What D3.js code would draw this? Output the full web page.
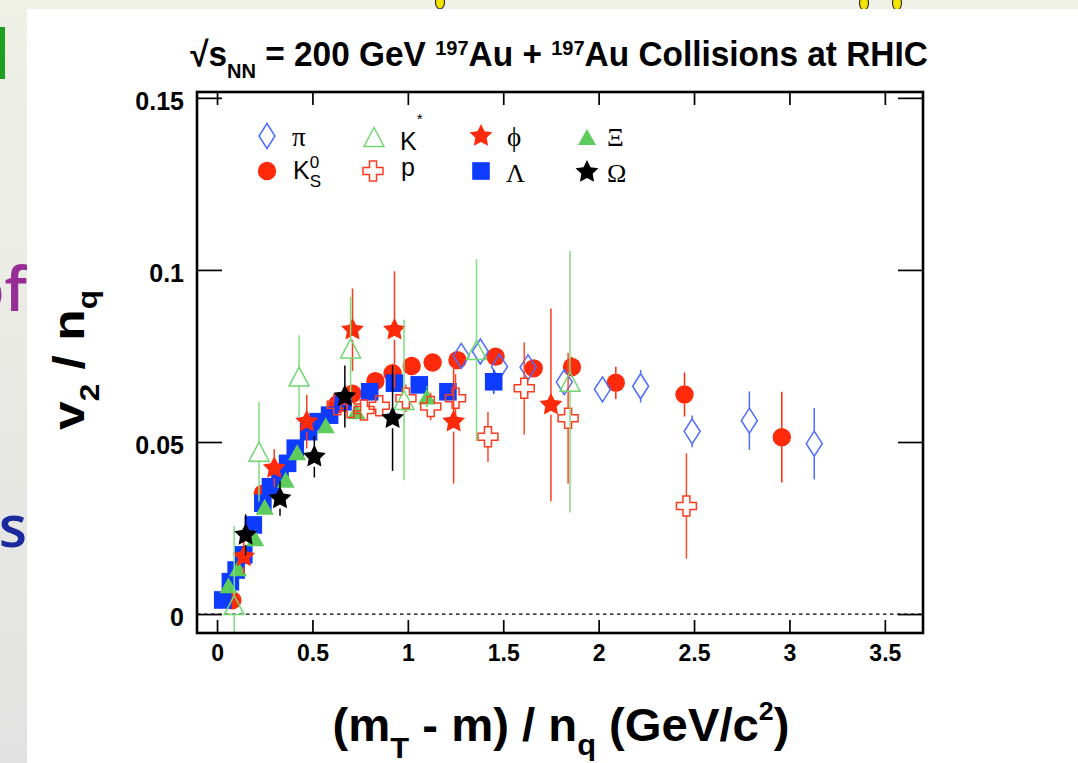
<!DOCTYPE html>
<html>
<head>
<meta charset="utf-8">
<script src="https://cdn.jsdelivr.net/npm/d3@7"></script>
<style>
  html, body { margin: 0; padding: 0; }
  body { width: 1078px; height: 763px; overflow: hidden; }
  svg { display: block; font-family: "Liberation Sans", Arial, sans-serif; }
</style>
</head>
<body>
<svg id="chart" width="1078" height="763"></svg>
<script>
// ---- data: (mT - m)/nq , v2/nq , error ----
const piX = [1.28, 1.38, 1.48, 1.63, 1.82, 2.02, 2.22, 2.49, 2.79, 3.13];
const piY = [0.0750, 0.0763, 0.0719, 0.0717, 0.0674, 0.0653, 0.0662, 0.0531, 0.0562, 0.0495];
const piE = [0.0025, 0.0025, 0.0025, 0.0025, 0.0030, 0.0035, 0.0047, 0.0046, 0.0085, 0.0104];

const k0sX = [0.08, 0.24, 0.63, 0.71, 0.83, 0.92, 1.02, 1.13, 1.26, 1.46, 1.66, 1.86, 2.09, 2.45, 2.96];
const k0sY = [0.0040, 0.0350, 0.0610, 0.0640, 0.0677, 0.0700, 0.0721, 0.0731, 0.0738, 0.0748, 0.0714, 0.0718, 0.0672, 0.0638, 0.0514];
const k0sE = [0.0015, 0.0015, 0.0015, 0.0015, 0.0015, 0.0015, 0.0015, 0.0015, 0.0018, 0.0020, 0.0025, 0.0030, 0.0047, 0.0064, 0.0132];

const kstX = [0.09, 0.22, 0.43, 0.70, 0.98, 1.36, 1.85];
const kstY = [0.0026, 0.0472, 0.0690, 0.0772, 0.0622, 0.0767, 0.0675];
const kstE = [0.0230, 0.0145, 0.0120, 0.0150, 0.0233, 0.0264, 0.0380];

const pX = [0.63, 0.70, 0.77, 0.85, 0.99, 1.12, 1.25, 1.42, 1.61, 1.84, 2.46];
const pY = [0.0608, 0.0600, 0.0593, 0.0605, 0.0627, 0.0603, 0.0627, 0.0515, 0.0656, 0.0569, 0.0314];
const pE = [0.0020, 0.0020, 0.0020, 0.0030, 0.0040, 0.0040, 0.0070, 0.0073, 0.0134, 0.0190, 0.0153];

const phiX = [0.14, 0.30, 0.47, 0.71, 0.93, 1.24, 1.75];
const phiY = [0.0167, 0.0424, 0.0559, 0.0826, 0.0826, 0.0559, 0.0608];
const phiE = [0.0050, 0.0055, 0.0078, 0.0120, 0.0170, 0.0180, 0.0280];

const lamX = [0.03, 0.07, 0.10, 0.14, 0.19, 0.24, 0.28, 0.33, 0.37, 0.41, 0.48, 0.53, 0.59, 0.66, 0.80, 0.93, 1.06, 1.21, 1.45];
const lamY = [0.0041, 0.0094, 0.0128, 0.0172, 0.0259, 0.0322, 0.0370, 0.0409, 0.0438, 0.0482, 0.0530, 0.0559, 0.0578, 0.0617, 0.0646, 0.0671, 0.0666, 0.0646, 0.0675];
const lamE = [0.0010, 0.0010, 0.0010, 0.0010, 0.0010, 0.0010, 0.0010, 0.0010, 0.0010, 0.0010, 0.0010, 0.0010, 0.0012, 0.0012, 0.0015, 0.0018, 0.0020, 0.0025, 0.0035];

const xiX = [0.06, 0.11, 0.20, 0.25, 0.36, 0.42, 0.57, 0.73, 1.10];
const xiY = [0.0084, 0.0133, 0.0220, 0.0312, 0.0390, 0.0470, 0.0549, 0.0590, 0.0632];
const xiE = [0.0015, 0.0015, 0.0015, 0.0015, 0.0015, 0.0018, 0.0020, 0.0025, 0.0030];

const omX = [0.15, 0.33, 0.51, 0.67, 0.92];
const omY = [0.0230, 0.0336, 0.0457, 0.0632, 0.0569];
const omE = [0.0060, 0.0050, 0.0060, 0.0090, 0.0153];

const xTicks = [0, 0.5, 1, 1.5, 2, 2.5, 3, 3.5];
const yTicks = [0, 0.05, 0.1, 0.15];

// ---- marker shapes (centered on 0,0) ----
const shapes = {
  circle: r => `M${r},0A${r},${r} 0 1,1 ${-r},0A${r},${r} 0 1,1 ${r},0Z`,
  square: h => `M${-h},${-h}H${h}V${h}H${-h}Z`,
  triangle: (w, h) => `M0,${-h / 2}L${w / 2},${h / 2}L${-w / 2},${h / 2}Z`,
  diamond: (w, h) => `M0,${-h}L${w},0L0,${h}L${-w},0Z`,
  cross: (L, a) => `M${-a},${-L}H${a}V${-a}H${L}V${a}H${a}V${L}H${-a}V${a}H${-L}V${-a}H${-a}Z`,
  star: R => {
    const pts = d3.range(10).map(i => {
      const r = i % 2 ? R * 0.5 : R;
      const t = -Math.PI / 2 + i * Math.PI / 5;
      return [r * Math.cos(t), r * Math.sin(t)];
    });
    return "M" + pts.map(p => p.join(",")).join("L") + "Z";
  }
};

const red = "#ff2a0a", blue = "#0d3bff", green = "#5ccd5c";

const series = [
  { xs: k0sX, ys: k0sY, es: k0sE, d: shapes.circle(9.2), half: 9, fill: red, stroke: "none", err: red },
  { xs: piX, ys: piY, es: piE, d: shapes.diamond(8, 12.5), half: 12.5, fill: "none", stroke: "#4b6cff", err: "#4b6cff" },
  { xs: lamX, ys: lamY, es: lamE, d: shapes.square(8.8), half: 8.8, fill: blue, stroke: "none", err: blue },
  { xs: xiX, ys: xiY, es: xiE, d: shapes.triangle(18, 16), half: 8, fill: green, stroke: "none", err: green },
  { xs: pX, ys: pY, es: pE, d: shapes.cross(10, 3.5), half: 10, fill: "none", stroke: "#ff3b1f", err: "#ff4a2a" },
  { xs: phiX, ys: phiY, es: phiE, d: shapes.star(12), half: 10, fill: red, stroke: "none", err: "#ff3a1a" },
  { xs: kstX, ys: kstY, es: kstE, d: shapes.triangle(20, 19), half: 9.5, fill: "none", stroke: "#72d672", err: "#80dc80" },
  { xs: omX, ys: omY, es: omE, d: shapes.star(12), half: 10, fill: "#000", stroke: "none", err: "#000" }
];

const svg = d3.select("#chart");
const W = 1078, H = 763;

// ---- slide background around the figure ----
const defs = svg.append("defs");
const bg = defs.append("linearGradient").attr("id", "bg")
  .attr("x1", 0).attr("y1", 0).attr("x2", 0).attr("y2", 1);
bg.append("stop").attr("offset", "0%").attr("stop-color", "#eff1e7");
bg.append("stop").attr("offset", "100%").attr("stop-color", "#e2e2e2");
svg.append("rect").attr("width", W).attr("height", H).attr("fill", "url(#bg)");

svg.append("rect").attr("x", 0).attr("y", 27).attr("width", 5).attr("height", 52).attr("fill", "#1f9f1f");
svg.append("text").attr("x", 27).attr("y", 311).attr("text-anchor", "end")
  .attr("font-family", "Open Sans").attr("font-weight", 600).attr("font-size", 62).attr("fill", "#962e96").text("of");
svg.append("text").attr("x", 27).attr("y", 547).attr("text-anchor", "end")
  .attr("font-family", "Open Sans").attr("font-weight", 600).attr("font-size", 58).attr("fill", "#1a2a9c").text("s");
[[440, 2], [864, 3], [897, 3]].forEach(([cx, cy]) =>
  svg.append("ellipse").attr("cx", cx).attr("cy", cy).attr("rx", 4.5).attr("ry", 7)
    .attr("fill", "#f3e400").attr("stroke", "#333").attr("stroke-width", 1.2));

svg.append("rect").attr("x", 27).attr("y", 9).attr("width", W - 27).attr("height", H - 9).attr("fill", "#fff");

// ---- scales ----
const x = d3.scaleLinear().domain([-0.105, 3.70]).range([197, 923]);
const y = d3.scaleLinear().domain([-0.0055, 0.1517]).range([633, 92]);
const [x0, x1] = x.range();
const [y0, y1] = y.range();

defs.append("clipPath").attr("id", "plot")
  .append("rect").attr("x", x0).attr("y", y1).attr("width", x1 - x0).attr("height", y0 - y1);

// dashed zero line
svg.append("line").attr("x1", x0).attr("x2", x1).attr("y1", y(0)).attr("y2", y(0))
  .attr("stroke", "#000").attr("stroke-width", 1.3).attr("stroke-dasharray", "3.5,3.5");

// ---- data ----
const plot = svg.append("g").attr("clip-path", "url(#plot)");
series.forEach(s => {
  const pts = s.xs.map((v, i) => ({ x: v, y: s.ys[i], e: s.es[i] }));
  const g = plot.append("g");
  pts.forEach(p => {
    const cx = x(p.x), cy = y(p.y);
    const lo = y(p.y - p.e), hi = y(p.y + p.e);
    if (lo > cy + s.half) g.append("line").attr("x1", cx).attr("x2", cx).attr("y1", cy + s.half).attr("y2", lo)
      .attr("stroke", s.err).attr("stroke-width", 1.5);
    if (hi < cy - s.half) g.append("line").attr("x1", cx).attr("x2", cx).attr("y1", hi).attr("y2", cy - s.half)
      .attr("stroke", s.err).attr("stroke-width", 1.5);
  });
  g.selectAll("path").data(pts).join("path")
    .attr("d", s.d)
    .attr("transform", p => `translate(${x(p.x)},${y(p.y)})`)
    .attr("fill", s.fill).attr("stroke", s.stroke).attr("stroke-width", 1.5);
});

// ---- axes ----
const font = "'Liberation Sans', Arial, sans-serif";
function styleAxis(g, size) {
  g.select(".domain").remove();
  g.selectAll("line").attr("stroke", "#000").attr("stroke-width", 1.7);
  g.attr("font-family", font).attr("font-size", size).attr("font-weight", "bold");
  g.selectAll("text").attr("fill", "#000");
}
svg.append("g").attr("transform", `translate(0,${y0})`)
  .call(d3.axisBottom(x).tickValues(xTicks).tickSize(-13).tickSizeOuter(0).tickPadding(12).tickFormat(d => String(d)))
  .call(g => styleAxis(g, 23));
svg.append("g").attr("transform", `translate(0,${y1})`)
  .call(d3.axisTop(x).tickValues(xTicks).tickSize(-13).tickSizeOuter(0).tickFormat(""))
  .call(g => styleAxis(g, 23));
svg.append("g").attr("transform", `translate(${x0},0)`)
  .call(d3.axisLeft(y).tickValues(yTicks).tickSize(-25).tickSizeOuter(0).tickPadding(13).tickFormat(d => String(d)))
  .call(g => styleAxis(g, 25))
  .call(g => g.selectAll("text").attr("dy", "0.45em"));
svg.append("g").attr("transform", `translate(${x1},0)`)
  .call(d3.axisRight(y).tickValues(yTicks).tickSize(-25).tickSizeOuter(0).tickFormat(""))
  .call(g => styleAxis(g, 25));

svg.append("rect").attr("x", x0).attr("y", y1).attr("width", x1 - x0).attr("height", y0 - y1)
  .attr("fill", "none").attr("stroke", "#000").attr("stroke-width", 2.6);

// ---- legend ----
const serif = "'Liberation Serif', 'Times New Roman', serif";
const legend = [
  { s: 1, mx: 267, my: 136, tx: 292, ty: 146, parts: [["π", serif, 27]] },
  { s: 6, mx: 374, my: 137, tx: 400, ty: 150, parts: [["K", font], ["*", font, 15, -26]] },
  { s: 5, mx: 481, my: 136, tx: 507, ty: 146, parts: [["ϕ", serif, 27]] },
  { s: 3, mx: 587, my: 137, tx: 607, ty: 146, parts: [["Ξ", serif, 26]] },
  { s: 0, mx: 267, my: 171, tx: 293, ty: 179, parts: [["K", font], ["0", font, 17, -11], ["S", font, 17, 8, -9.5]] },
  { s: 4, mx: 373, my: 171, tx: 401, ty: 176, parts: [["p", font]] },
  { s: 2, mx: 481, my: 171, tx: 506, ty: 182, parts: [["Λ", serif, 26]] },
  { s: 7, mx: 587, my: 172, tx: 607, ty: 182, parts: [["Ω", serif, 26]] }
];
legend.forEach(l => {
  const s = series[l.s];
  svg.append("path").attr("d", s.d).attr("transform", `translate(${l.mx},${l.my})`)
    .attr("fill", s.fill).attr("stroke", s.stroke).attr("stroke-width", 1.5);
  const t = svg.append("text").attr("x", l.tx).attr("y", l.ty).attr("font-size", 25).attr("fill", "#000");
  let shift = 0;
  l.parts.forEach(([txt, fam, size, dy, dx]) => {
    const sp = t.append("tspan").attr("font-family", fam).text(txt);
    if (size) sp.attr("font-size", size);
    const target = dy || 0;
    sp.attr("dy", target - shift);
    shift = target;
    if (dx) sp.attr("dx", dx);
  });
});

// ---- titles ----
function richText(parent, parts, size) {
  const t = parent.append("text").attr("text-anchor", "middle").attr("font-family", font)
    .attr("font-weight", "bold").attr("font-size", size).attr("fill", "#000");
  let shift = 0;
  parts.forEach(([txt, sub, dy]) => {
    const sp = t.append("tspan").text(txt);
    if (sub) sp.attr("font-size", sub);
    const target = dy || 0;
    sp.attr("dy", target - shift);
    shift = target;
  });
  return t;
}
function fit(t, width) {
  const len = t.node().getComputedTextLength();
  t.attr("transform", `scale(${width / len},1)`);
}

const title = richText(svg.append("g").attr("transform", "translate(559,66)"), [
  ["√s"], ["NN", 21, 12], [" = 200 GeV "], ["197", 21, -11], ["Au + "], ["197", 21, -11], ["Au Collisions at RHIC"]
], 35);
fit(title, 738);

const xLabel = richText(svg.append("g").attr("transform", "translate(561,741)"), [
  ["(m"], ["T", 30, 17], [" - m) / n"], ["q", 30, 14], [" (GeV/c"], ["2", 26, -21], [")"]
], 46);
fit(xLabel, 457);

const yLabel = richText(svg.append("g").attr("transform", "translate(84,360) rotate(-90)"), [
  ["v"], ["2", 27, 15], [" / n"], ["q", 27, 13]
], 44);
fit(yLabel, 140);
</script>
</body>
</html>
